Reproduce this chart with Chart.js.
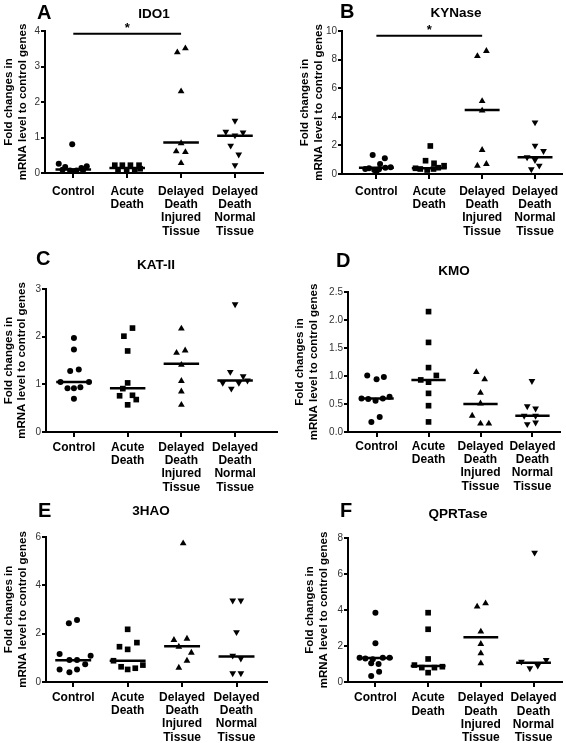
<!DOCTYPE html>
<html><head><meta charset="utf-8">
<script src="https://cdn.jsdelivr.net/npm/chart.js@4/dist/chart.umd.min.js"></script>
<style>
html,body{margin:0;padding:0;background:#fff;}
#wrap{position:relative;width:566px;height:743px;overflow:hidden;background:#fff;}
.panel{position:absolute;}
</style></head><body><div id="wrap"></div>
<script>
// ---------- DATA ----------
const categories = ['Control', ['Acute', 'Death'], ['Delayed', 'Death', 'Injured', 'Tissue'], ['Delayed', 'Death', 'Normal', 'Tissue']];
const yAxisTitle = ['Fold changes in', 'mRNA level to control genes'];

// A: IDO1
const ido1Values = [
  [0.81, 0.26, 0.17, 0.07, 0.07, 0.14, 0.19, 0.09, 0.05, 0.07],
  [0.22, 0.22, 0.22, 0.22, 0.08, 0.08, 0.08, 0.12],
  [3.40, 3.51, 2.30, 0.84, 0.61, 0.59, 0.28],
  [1.47, 1.16, 1.06, 1.14, 0.77, 0.52, 0.22]
];
const ido1Jitter = [
  [-0.02, -0.27, -0.15, -0.06, 0.06, 0.15, 0.25, -0.20, 0.00, 0.18],
  [-0.23, -0.09, 0.06, 0.22, -0.17, -0.01, 0.14, 0.24],
  [-0.07, 0.08, 0.00, 0.00, -0.09, 0.08, 0.00],
  [0.00, -0.17, 0.00, 0.15, -0.08, 0.07, 0.00]
];
const ido1Medians = [0.10, 0.14, 0.86, 1.05];
const ido1Ticks = [0, 1, 2, 3, 4];
const ido1Sig = [0, 2, 3.92];

// B: KYNase
const kynValues = [
  [1.33, 1.10, 0.70, 0.40, 0.28, 0.33, 0.44, 0.47, 0.35, 0.16],
  [1.96, 0.93, 0.75, 0.58, 0.35, 0.28, 0.35, 0.44, 0.40],
  [8.25, 8.60, 5.10, 4.43, 1.68, 0.58, 0.70],
  [3.61, 1.98, 1.61, 1.17, 0.98, 0.58, 0.33]
];
const kynJitter = [
  [-0.07, 0.16, 0.07, -0.14, -0.04, 0.05, 0.17, 0.27, -0.21, 0.00],
  [0.02, -0.07, 0.09, 0.28, -0.17, -0.04, 0.08, 0.17, -0.26],
  [-0.09, 0.08, 0.00, 0.00, 0.00, -0.09, 0.08],
  [0.00, 0.00, 0.16, -0.15, 0.00, 0.08, -0.07]
];
const kynMedians = [0.44, 0.40, 4.48, 1.17];
const kynTicks = [0, 2, 4, 6, 8, 10];
const kynSig = [0, 2, 9.67];

// C: KAT-II
const katValues = [
  [1.97, 1.73, 1.28, 1.31, 1.05, 1.05, 0.92, 0.92, 0.94, 0.70],
  [2.01, 2.18, 1.70, 1.03, 0.91, 0.76, 0.77, 0.68, 0.57],
  [2.17, 1.66, 1.71, 1.41, 1.07, 0.85, 0.57],
  [2.68, 1.26, 1.17, 1.03, 0.91, 1.03, 1.08]
];
const katJitter = [
  [0.00, 0.00, -0.07, 0.09, -0.25, 0.28, -0.12, 0.00, 0.12, 0.00],
  [-0.07, 0.09, 0.00, 0.00, -0.09, -0.15, 0.09, 0.16, 0.00],
  [0.00, -0.09, 0.07, 0.00, 0.00, 0.00, 0.00],
  [0.00, -0.09, 0.15, -0.23, -0.07, 0.07, 0.23]
];
const katMedians = [1.05, 0.92, 1.43, 1.08];
const katTicks = [0, 1, 2, 3];

// D: KMO
const kmoValues = [
  [1.01, 0.94, 0.98, 0.60, 0.59, 0.56, 0.60, 0.63, 0.18, 0.27],
  [2.15, 1.60, 1.15, 0.93, 0.89, 1.01, 0.69, 0.47, 0.18],
  [1.07, 0.94, 0.70, 0.51, 0.29, 0.15, 0.15],
  [0.91, 0.46, 0.42, 0.29, 0.29, 0.14, 0.17]
];
const kmoJitter = [
  [-0.18, 0.00, 0.14, -0.29, -0.16, -0.02, 0.12, 0.25, -0.10, 0.06],
  [0.00, 0.00, 0.00, -0.15, 0.00, 0.15, 0.00, 0.00, 0.00],
  [-0.08, 0.08, 0.00, 0.00, -0.16, 0.00, 0.16],
  [-0.01, -0.10, 0.06, -0.16, 0.06, -0.10, 0.06]
];
const kmoMedians = [0.60, 0.93, 0.50, 0.29];
const kmoTicks = [0, 0.5, 1.0, 1.5, 2.0, 2.5];

// E: 3HAO
const haoValues = [
  [2.43, 2.57, 1.16, 1.09, 0.91, 0.91, 0.73, 0.52, 0.40, 0.52],
  [2.18, 1.46, 1.35, 1.63, 0.88, 0.63, 0.52, 0.57, 0.70],
  [5.74, 1.74, 1.79, 1.46, 1.21, 0.88, 0.59],
  [3.37, 3.37, 2.06, 1.09, 0.97, 0.36, 0.36]
];
const haoJitter = [
  [-0.08, 0.07, -0.25, 0.32, -0.07, 0.07, 0.22, -0.25, -0.07, 0.07],
  [0.00, -0.15, 0.00, 0.17, -0.26, -0.12, 0.00, 0.14, 0.28],
  [0.02, -0.15, 0.09, -0.06, 0.17, 0.09, -0.06],
  [-0.07, 0.08, 0.00, -0.07, 0.08, -0.07, 0.08]
];
const haoMedians = [0.90, 0.88, 1.48, 1.06];
const haoTicks = [0, 2, 4, 6];

// F: QPRTase
const qprValues = [
  [3.85, 2.15, 1.35, 1.31, 1.26, 1.35, 1.35, 1.04, 1.00, 0.57, 0.33],
  [3.85, 2.93, 1.28, 0.94, 0.80, 0.52, 0.80, 0.85],
  [4.19, 4.37, 2.80, 2.11, 1.59, 1.04],
  [7.19, 1.13, 0.76, 0.91, 1.22]
];
const qprJitter = [
  [0.00, 0.00, -0.30, -0.19, -0.05, 0.14, 0.27, -0.08, 0.06, 0.07, -0.08],
  [0.00, 0.00, 0.00, -0.26, -0.12, 0.00, 0.12, 0.27],
  [-0.07, 0.09, 0.00, 0.00, 0.00, 0.00],
  [0.02, -0.23, -0.07, 0.08, 0.24]
];
const qprMedians = [1.33, 0.89, 2.48, 1.07];
const qprTicks = [0, 2, 4, 6, 8];

// ---------- PANEL LAYOUT ----------
const FONT = '"Liberation Sans", Arial, Helvetica, sans-serif';
const panels = [
  {letter: 'A', gene: 'IDO1', values: ido1Values, jitter: ido1Jitter, medians: ido1Medians, ticks: ido1Ticks, sig: ido1Sig, dec: 0,
   box: [0, 0, 283, 245], padL: 2, yW: 43, padT: 31, xH: 72, padR: 20, xMin: -0.525, xMax: 3.52, lblPad: 7, letterPos: [37, 18.5], titlePos: [154, 18]},
  {letter: 'B', gene: 'KYNase', values: kynValues, jitter: kynJitter, medians: kynMedians, ticks: kynTicks, sig: kynSig, dec: 0,
   box: [283, 0, 283, 245], padL: 15, yW: 44, padT: 31, xH: 71, padR: 1, xMin: -0.65, xMax: 3.51, lblPad: 6, letterPos: [57, 18], titlePos: [173, 17]},
  {letter: 'C', gene: 'KAT-II', values: katValues, jitter: katJitter, medians: katMedians, ticks: katTicks, sig: null, dec: 0,
   box: [0, 245, 283, 245], padL: 1.5, yW: 44.5, padT: 44, xH: 58, padR: 6, xMin: -0.52, xMax: 3.78, lblPad: 4, letterPos: [36, 20], titlePos: [156, 24]},
  {letter: 'D', gene: 'KMO', values: kmoValues, jitter: kmoJitter, medians: kmoMedians, ticks: kmoTicks, sig: null, dec: 1,
   box: [283, 245, 283, 245], padL: 10, yW: 55, padT: 47, xH: 58, padR: 6, xMin: -0.55, xMax: 3.53, lblPad: 3, letterPos: [53, 21.5], titlePos: [171, 30]},
  {letter: 'E', gene: '3HAO', values: haoValues, jitter: haoJitter, medians: haoMedians, ticks: haoTicks, sig: null, dec: 0,
   box: [0, 490, 283, 253], padL: 2, yW: 44, padT: 47, xH: 61, padR: 16, xMin: -0.5, xMax: 3.56, lblPad: 4, letterPos: [38, 26.5], titlePos: [151, 25]},
  {letter: 'F', gene: 'QPRTase', values: qprValues, jitter: qprJitter, medians: qprMedians, ticks: qprTicks, sig: null, dec: 0,
   box: [283, 490, 283, 253], padL: 20, yW: 45, padT: 48, xH: 61, padR: 0, xMin: -0.52, xMax: 3.54, lblPad: 4.5, letterPos: [57, 26.5], titlePos: [175, 28]}
];
const EXTRA = 20; // canvas and x-scale box extend below the panel box so long labels are not clipped

const markerStyles = [
  {pointStyle: 'circle', rotation: 0, radius: 3},
  {pointStyle: 'rect', rotation: 0, radius: 4},
  {pointStyle: 'triangle', rotation: 0, radius: 3.9},
  {pointStyle: 'triangle', rotation: 180, radius: 3.9}
];

const textPlugin = {
  id: 'panelText',
  afterDraw(chart, args, o) {
    const ctx = chart.ctx;
    ctx.save();
    ctx.fillStyle = '#000';
    ctx.textBaseline = 'alphabetic';
    ctx.font = 'bold 20px ' + FONT;
    ctx.textAlign = 'left';
    ctx.fillText(o.letter, o.letterPos[0], o.letterPos[1]);
    ctx.font = 'bold 13.5px ' + FONT;
    ctx.textAlign = 'center';
    ctx.fillText(o.gene, o.titlePos[0], o.titlePos[1]);
    if (o.sig) {
      const xs = chart.scales.x, ys = chart.scales.y;
      const cx = xs.getPixelForValue((o.sig[0] + o.sig[1]) / 2);
      const cy = ys.getPixelForValue(o.sig[2]);
      ctx.font = 'bold 13px ' + FONT;
      ctx.fillText('*', cx, cy - 1.5);
    }
    ctx.restore();
  }
};

const wrap = document.getElementById('wrap');
panels.forEach((p) => {
  const W = p.box[2], H = p.box[3] + EXTRA;
  const div = document.createElement('div');
  div.className = 'panel';
  div.style.left = p.box[0] + 'px';
  div.style.top = p.box[1] + 'px';
  div.style.width = W + 'px';
  div.style.height = H + 'px';
  const cv = document.createElement('canvas');
  cv.width = W; cv.height = H;
  cv.style.width = W + 'px'; cv.style.height = H + 'px';
  div.appendChild(cv);
  wrap.appendChild(div);

  const datasets = [];
  p.values.forEach((vals, ci) => {
    const m = markerStyles[ci];
    datasets.push({
      data: vals.map((v, k) => ({x: ci + p.jitter[ci][k], y: v})),
      pointStyle: m.pointStyle, rotation: m.rotation, pointRadius: m.radius,
      backgroundColor: '#000', borderColor: '#000', borderWidth: 0, showLine: false, clip: false
    });
  });
  p.medians.forEach((md, ci) => {
    datasets.push({
      data: [{x: ci - 0.33, y: md}, {x: ci + 0.33, y: md}],
      showLine: true, pointRadius: 0, borderColor: '#000', borderWidth: 2.5, clip: false
    });
  });
  if (p.sig) {
    datasets.push({
      data: [{x: p.sig[0], y: p.sig[2]}, {x: p.sig[1], y: p.sig[2]}],
      showLine: true, pointRadius: 0, borderColor: '#000', borderWidth: 2, clip: false
    });
  }

  new Chart(cv, {
    type: 'scatter',
    data: {datasets},
    plugins: [textPlugin],
    options: {
      responsive: false, animation: false, devicePixelRatio: 1,
      layout: {padding: {left: p.padL, top: p.padT, right: p.padR, bottom: 0}},
      plugins: {
        legend: {display: false}, tooltip: {enabled: false},
        panelText: {letter: p.letter, gene: p.gene, letterPos: p.letterPos, titlePos: p.titlePos, sig: p.sig}
      },
      scales: {
        x: {
          type: 'linear', min: p.xMin, max: p.xMax,
          afterBuildTicks: s => { s.ticks = categories.map((c, i) => ({value: i})); },
          afterFit: s => { s.height = p.xH + EXTRA; s.paddingLeft = 0; s.paddingRight = 0; },
          ticks: {
            callback: v => categories[v],
            color: '#000', padding: p.lblPad, maxRotation: 0, autoSkip: false,
            font: {family: FONT, size: 12, weight: 'bold', lineHeight: 1.1}
          },
          grid: {drawOnChartArea: false, drawTicks: true, tickLength: 5, color: '#000', lineWidth: 2},
          border: {display: true, color: '#000', width: 2}
        },
        y: {
          type: 'linear', min: p.ticks[0], max: p.ticks[p.ticks.length - 1],
          afterBuildTicks: s => { s.ticks = p.ticks.map(v => ({value: v})); },
          afterFit: s => { s.width = p.yW; },
          ticks: {
            callback: v => v.toFixed(p.dec),
            color: '#333', padding: 1,
            font: {family: FONT, size: 10}
          },
          title: {display: true, text: yAxisTitle, color: '#000', padding: {top: 0, bottom: 0},
                  font: {family: FONT, size: 11.5, weight: 'bold', lineHeight: 1.2}},
          grid: {drawOnChartArea: false, drawTicks: true, tickLength: 4, color: '#000', lineWidth: 2},
          border: {display: true, color: '#000', width: 2}
        }
      }
    }
  });
});
</script>
</body></html>
